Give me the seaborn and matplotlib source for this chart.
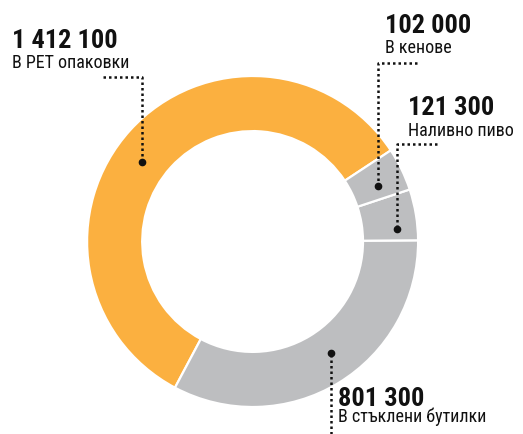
import matplotlib
matplotlib.use("Agg")
import matplotlib.pyplot as plt
import seaborn as sns

# Data (counter-clockwise order starting from the orange slice)
categories = ["В PET опаковки", "В стъклени бутилки", "Наливно пиво", "В кенове"]
values = [1412100, 801300, 121300, 102000]
value_labels = ["1 412 100", "801 300", "121 300", "102 000"]

sns.set_theme(style="white")
plt.rcParams['font.family'] = ['Roboto Condensed', 'Roboto', 'DejaVu Sans']

W, H = 523, 434
fig = plt.figure(figsize=(W / 100, H / 100), dpi=100)
ax = fig.add_axes([0, 0, 1, 1])

def Y(y):
    return H - y

colors = ["#FBB040", "#BDBEC0", "#BDBEC0", "#BDBEC0"]
cx, cy, R, r = 252.6, 241.5, 165.5, 110.4
ax.pie(values, colors=colors, startangle=33.4, counterclock=True,
       center=(cx, Y(cy)), radius=R, frame=True,
       wedgeprops=dict(width=R - r, edgecolor="white", linewidth=1.6))
ax.set_xlim(0, W)
ax.set_ylim(0, H)
ax.set_aspect("auto")
ax.axis("off")

dot_style = dict(color="#111111", linewidth=1.8, linestyle=(0, (1.0, 1.2)),
                 dash_capstyle="butt")

def leader(xs, ys):
    ax.plot(xs, [Y(v) for v in ys], **dot_style)
    ax.plot([xs[-1]], [Y(ys[-1])], marker="o", markersize=4.5, color="#111111")

# PET
leader([103, 142, 142], [76.7, 76.7, 161.7])
# Kegs
leader([417, 378.3, 378.3], [63.3, 63.3, 185.7])
# Draft
leader([436.7, 397.3, 397.3], [144.3, 144.3, 229.3])
# Glass
leader([330.7, 330.7], [434, 352.7])

num_kw = dict(fontsize=19, fontweight="heavy", color="#111111", va="baseline", ha="left")
lab_kw = dict(fontsize=13, color="#111111", va="baseline", ha="left")

# positions (x, number baseline, label baseline)
pos = {
    "В PET опаковки": (12, 48, 67.7),
    "В стъклени бутилки": (338, 406, 421.7),
    "Наливно пиво": (408, 115, 136),
    "В кенове": (385, 33.3, 53.3),
}
for cat, vl in zip(categories, value_labels):
    x, yn, yl = pos[cat]
    ax.text(x, Y(yn), vl, **num_kw)
    ax.text(x, Y(yl), cat, **lab_kw)

fig.savefig("out.png", dpi=100)
